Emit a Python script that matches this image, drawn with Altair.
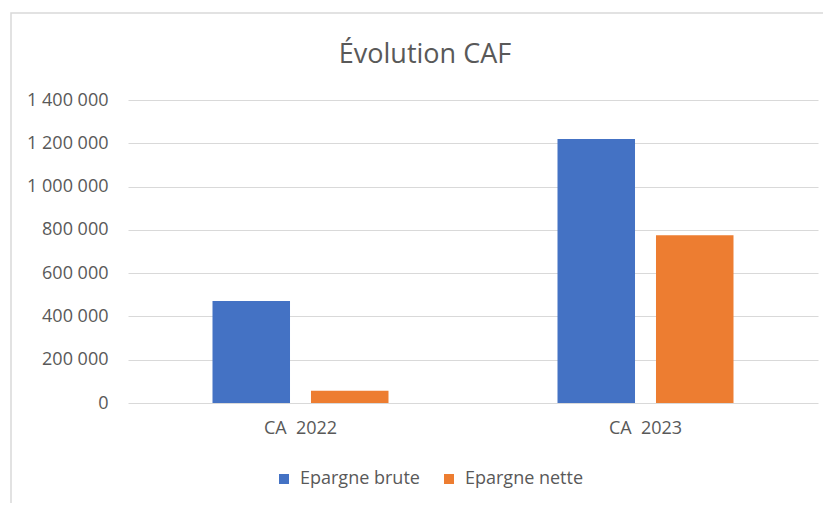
import altair as alt
import pandas as pd

categories = ["CA\u00a0\u00a02022", "CA\u00a0\u00a02023"]
series = ["Epargne brute", "Epargne nette"]
epargne_brute = [471000, 1220000]
epargne_nette = [57000, 775000]
colors = ["#4472C4", "#ED7D31"]
y_ticks = [0, 200000, 400000, 600000, 800000, 1000000, 1200000, 1400000]

rows = []
for i, c in enumerate(categories):
    rows.append({"cat": c, "series": series[0], "value": epargne_brute[i]})
    rows.append({"cat": c, "series": series[1], "value": epargne_nette[i]})
df = pd.DataFrame(rows)

FONT = "Open Sans"
GREY = "#595959"

bars = alt.Chart(df).mark_bar().encode(
    x=alt.X("cat:N", sort=categories, title=None,
            scale=alt.Scale(paddingInner=0, paddingOuter=0),
            axis=alt.Axis(labelAngle=0, labelFontSize=18, labelColor=GREY, labelFont=FONT,
                          labelPadding=16, ticks=False, domain=False, grid=False)),
    xOffset=alt.XOffset("series:N", sort=series,
                        scale=alt.Scale(paddingInner=0.213, paddingOuter=0.858)),
    y=alt.Y("value:Q", title=None,
            scale=alt.Scale(domain=[0, 1400000], nice=False),
            axis=alt.Axis(values=y_ticks, labelFontSize=18, labelColor=GREY, labelFont=FONT,
                          labelPadding=20, ticks=False, domain=False, gridColor="#d9d9d9",
                          labelExpr="replace(format(datum.value, ','), regexp(',', 'g'), ' ')")),
    color=alt.Color("series:N", sort=series, title=None,
                    scale=alt.Scale(domain=series, range=colors),
                    legend=alt.Legend(orient="none", legendX=147, legendY=370, direction="horizontal",
                                      symbolType="square", symbolSize=100, symbolStrokeWidth=0,
                                      labelFontSize=18, labelColor=GREY, labelFont=FONT,
                                      labelOffset=7, columnPadding=20)),
)

frame = alt.Chart(pd.DataFrame({"k": [0]})).mark_rect(fill=None, stroke="#d9d9d9", strokeWidth=1.5).encode(
    x=alt.value(-117), x2=alt.value(740), y=alt.value(-87), y2=alt.value(430)
)

chart = alt.layer(frame, bars).properties(
    width=690, height=303,
    background="white",
    title=alt.Title("Évolution CAF", fontSize=27, color=GREY, font=FONT, fontWeight="normal",
                    anchor="middle", frame="group", dx=-48, baseline="alphabetic", offset=0, dy=78),
    autosize=alt.AutoSizeParams(type="none"),
    padding={"left": 120, "top": 92, "right": 5, "bottom": 100},
).configure_view(stroke=None, strokeWidth=0)

chart.save("out.html", embed_options={"renderer": "svg", "actions": False})
